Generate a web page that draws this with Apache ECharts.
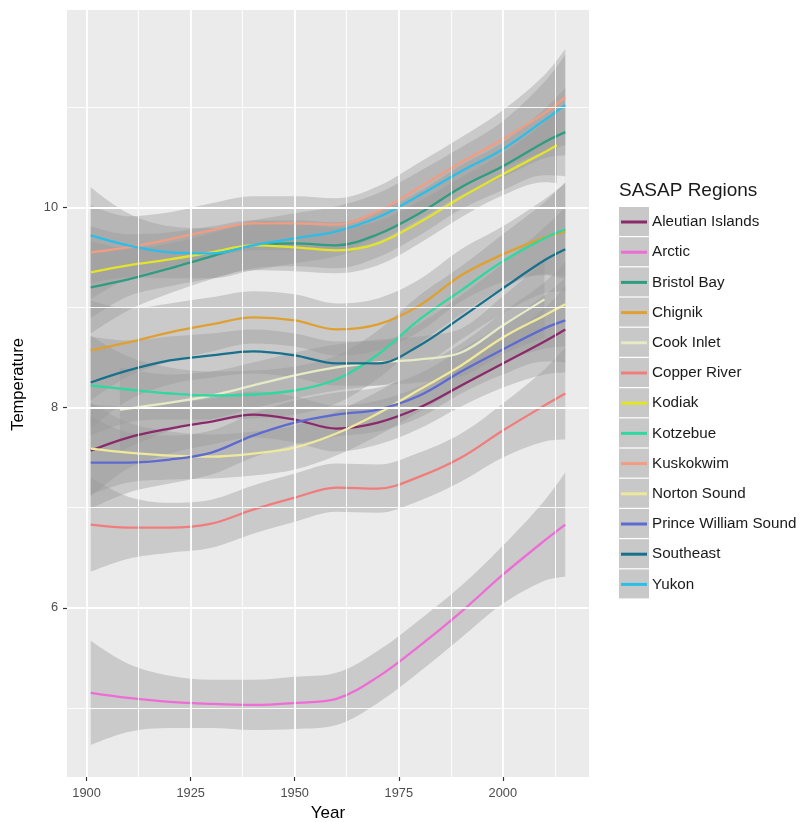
<!DOCTYPE html>
<html>
<head>
<meta charset="utf-8">
<script src="https://cdn.jsdelivr.net/npm/echarts@6/dist/echarts.min.js"></script>
<style>html,body{margin:0;padding:0;background:#fff}#chart{width:806px;height:822px}</style>
</head>
<body>
<div id="chart"></div>
<script>
// ---- data ----
const years       = [1901, 1910, 1920, 1930, 1940, 1950, 1960, 1970, 1980, 1990, 2000, 2010, 2015];
const kodiakYears = [1901, 1910, 1920, 1930, 1940, 1950, 1960, 1970, 1980, 1990, 2000, 2010, 2013];
const cookYears   = [1908, 1920, 1930, 1940, 1950, 1960, 1970, 1980, 1990, 2000, 2010];

const regions = ['Aleutian Islands', 'Arctic', 'Bristol Bay', 'Chignik', 'Cook Inlet', 'Copper River',
  'Kodiak', 'Kotzebue', 'Kuskokwim', 'Norton Sound', 'Prince William Sound', 'Southeast', 'Yukon'];
const regionColors = ['#8b2a6b', '#ef6cd6', '#2e9d80', '#e0a030', '#e6ebc6', '#f27c7c',
  '#e3e32a', '#2fd8a0', '#f29c82', '#eee99a', '#5d6ad2', '#17708c', '#2bbee8'];

// smoothed temperature (fit line)
const aleutian   = [7.57, 7.70, 7.79, 7.86, 7.93, 7.88, 7.79, 7.85, 8.00, 8.22, 8.44, 8.66, 8.78];
const arctic     = [5.15, 5.10, 5.06, 5.04, 5.03, 5.05, 5.09, 5.31, 5.62, 5.96, 6.33, 6.67, 6.83];
const bristolBay = [9.20, 9.28, 9.39, 9.51, 9.62, 9.64, 9.62, 9.73, 9.94, 10.20, 10.41, 10.65, 10.75];
const chignik    = [8.57, 8.65, 8.75, 8.83, 8.90, 8.87, 8.78, 8.83, 9.02, 9.32, 9.53, 9.70, 9.76];
const cookInlet  = [7.98, 8.05, 8.12, 8.22, 8.32, 8.40, 8.45, 8.48, 8.55, 8.82, 9.08];
const copperRiver= [6.83, 6.80, 6.80, 6.84, 6.98, 7.10, 7.20, 7.19, 7.31, 7.50, 7.77, 8.02, 8.14];
const kodiak     = [9.35, 9.42, 9.48, 9.55, 9.62, 9.60, 9.57, 9.64, 9.85, 10.10, 10.33, 10.55, 10.62];
const kotzebue   = [8.22, 8.18, 8.14, 8.12, 8.13, 8.17, 8.28, 8.53, 8.88, 9.17, 9.46, 9.69, 9.78];
const kuskokwim  = [9.55, 9.60, 9.68, 9.77, 9.84, 9.84, 9.83, 9.96, 10.20, 10.45, 10.68, 10.94, 11.10];
const nortonSound= [7.59, 7.55, 7.52, 7.51, 7.54, 7.60, 7.74, 7.94, 8.18, 8.42, 8.70, 8.92, 9.03];
const princeWilliam = [7.45, 7.45, 7.48, 7.55, 7.72, 7.85, 7.93, 7.98, 8.12, 8.36, 8.58, 8.79, 8.87];
const southeast  = [8.25, 8.37, 8.47, 8.52, 8.56, 8.52, 8.44, 8.44, 8.62, 8.90, 9.19, 9.47, 9.58];
const yukon      = [9.72, 9.62, 9.55, 9.54, 9.62, 9.69, 9.76, 9.90, 10.12, 10.36, 10.58, 10.87, 11.02];

// half-width of the confidence ribbon
const aleutianSE   = [0.46, 0.31, 0.25, 0.23, 0.23, 0.23, 0.23, 0.22, 0.21, 0.21, 0.24, 0.33, 0.43];
const arcticSE     = [0.52, 0.34, 0.26, 0.24, 0.25, 0.26, 0.26, 0.26, 0.26, 0.26, 0.29, 0.40, 0.52];
const bristolBaySE = [0.46, 0.31, 0.25, 0.23, 0.23, 0.23, 0.23, 0.23, 0.22, 0.22, 0.24, 0.33, 0.44];
const chignikSE    = [0.50, 0.34, 0.29, 0.27, 0.26, 0.26, 0.26, 0.26, 0.26, 0.26, 0.28, 0.38, 0.48];
const cookInletSE  = [0.42, 0.28, 0.24, 0.23, 0.23, 0.23, 0.23, 0.23, 0.24, 0.29, 0.38];
const copperRiverSE= [0.47, 0.31, 0.25, 0.24, 0.24, 0.24, 0.24, 0.24, 0.24, 0.24, 0.27, 0.36, 0.46];
const kodiakSE     = [0.46, 0.31, 0.27, 0.26, 0.25, 0.24, 0.23, 0.22, 0.21, 0.20, 0.21, 0.30, 0.38];
const kotzebueSE   = [0.50, 0.33, 0.26, 0.24, 0.24, 0.24, 0.24, 0.24, 0.24, 0.24, 0.27, 0.36, 0.47];
const kuskokwimSE  = [0.47, 0.31, 0.27, 0.27, 0.27, 0.27, 0.26, 0.25, 0.25, 0.25, 0.29, 0.38, 0.48];
const nortonSoundSE= [0.46, 0.30, 0.24, 0.22, 0.22, 0.22, 0.22, 0.22, 0.22, 0.22, 0.25, 0.33, 0.42];
const princeWilliamSE = [0.46, 0.30, 0.24, 0.22, 0.22, 0.22, 0.22, 0.22, 0.22, 0.22, 0.25, 0.33, 0.42];
const southeastSE  = [0.46, 0.30, 0.24, 0.22, 0.22, 0.22, 0.22, 0.22, 0.22, 0.22, 0.25, 0.33, 0.42];
const yukonSE      = [0.48, 0.32, 0.26, 0.25, 0.25, 0.25, 0.25, 0.24, 0.24, 0.24, 0.28, 0.38, 0.50];

const xTicks = [1900, 1925, 1950, 1975, 2000];
const xMinorTicks = [1912.5, 1937.5, 1962.5, 1987.5, 2012.5];
const yTicks = [6, 8, 10];
const yMinorTicks = [5, 7, 9, 11];

const regionSeries = [
  { years: years, fit: aleutian, se: aleutianSE },
  { years: years, fit: arctic, se: arcticSE },
  { years: years, fit: bristolBay, se: bristolBaySE },
  { years: years, fit: chignik, se: chignikSE },
  { years: cookYears, fit: cookInlet, se: cookInletSE },
  { years: years, fit: copperRiver, se: copperRiverSE },
  { years: kodiakYears, fit: kodiak, se: kodiakSE },
  { years: years, fit: kotzebue, se: kotzebueSE },
  { years: years, fit: kuskokwim, se: kuskokwimSE },
  { years: years, fit: nortonSound, se: nortonSoundSE },
  { years: years, fit: princeWilliam, se: princeWilliamSE },
  { years: years, fit: southeast, se: southeastSE },
  { years: years, fit: yukon, se: yukonSE }
];

// ---- chart ----
const FONT = '"Liberation Sans", Arial, sans-serif';
const SMOOTH = 0.35;
const series = [];

// ggplot-like grid lines via markLine on a helper series
const gridLines = [];
yMinorTicks.forEach(v => gridLines.push({ yAxis: v, lineStyle: { color: '#ffffff', width: 0.9, type: 'solid' } }));
xMinorTicks.forEach(v => gridLines.push({ xAxis: v, lineStyle: { color: '#ffffff', width: 0.9, type: 'solid' } }));
yTicks.forEach(v => gridLines.push({ yAxis: v, lineStyle: { color: '#ffffff', width: 1.8, type: 'solid' } }));
xTicks.forEach(v => gridLines.push({ xAxis: v, lineStyle: { color: '#ffffff', width: 1.8, type: 'solid' } }));
series.push({
  type: 'line', name: '_grid', data: [[years[0], arctic[0]]], symbol: 'none',
  lineStyle: { width: 0, opacity: 0 }, silent: true, z: 1,
  markLine: { silent: true, symbol: ['none', 'none'], label: { show: false }, animation: false, data: gridLines }
});

regionSeries.forEach((r, i) => {
  const stackId = 'ribbon' + i;
  // value first, year second -> the stacked dimension is the temperature (y)
  series.push({
    type: 'line', name: 'lo' + i, stack: stackId, stackStrategy: 'all', smooth: SMOOTH,
    symbol: 'none', showSymbol: false, silent: true, z: 2, encode: { x: 1, y: 0 },
    lineStyle: { color: 'rgba(0,0,0,0)', width: 0 },
    data: r.years.map((y, j) => [r.fit[j] - r.se[j], y])
  });
  series.push({
    type: 'line', name: 'band' + i, stack: stackId, stackStrategy: 'all', smooth: SMOOTH,
    symbol: 'none', showSymbol: false, silent: true, z: 2, encode: { x: 1, y: 0 },
    lineStyle: { color: 'rgba(0,0,0,0)', width: 0 },
    areaStyle: { color: 'rgba(153,153,153,0.4)', opacity: 1 },
    data: r.years.map((y, j) => [2 * r.se[j], y])
  });
  series.push({
    type: 'line', name: regions[i], smooth: SMOOTH, symbol: 'none', z: 2,
    lineStyle: { color: regionColors[i], width: 2.3 },
    itemStyle: { color: regionColors[i] },
    data: r.years.map((y, j) => [y, r.fit[j]])
  });
});

const option = {
  animation: false,
  title: [{
    text: 'SASAP Regions', left: 619, top: 181, padding: 0,
    textStyle: { fontFamily: FONT, fontSize: 19, fontWeight: 'normal', color: '#1a1a1a' }
  }],
  legend: [
    { // gray key boxes
      data: regions, orient: 'vertical', left: 619, top: 207, padding: 0,
      icon: 'rect', itemWidth: 30, itemHeight: 29, itemGap: 1.2, selectedMode: false,
      itemStyle: { color: '#c8c8c8', borderWidth: 0 },
      textStyle: { color: 'rgba(0,0,0,0)', fontSize: 12 }
    },
    { // coloured key lines + labels
      data: regions, orient: 'vertical', left: 621, top: 214, padding: 0,
      icon: 'rect', itemWidth: 26, itemHeight: 3, itemGap: 14.2, selectedMode: false,
      itemStyle: { borderWidth: 0 },
      textStyle: { color: '#1a1a1a', fontSize: 15.2, lineHeight: 16, fontFamily: FONT }
    }
  ],
  grid: { left: 67, right: 217, top: 10, bottom: 45, outerBoundsMode: 'none', containLabel: false,
    show: true, backgroundColor: '#ebebeb', borderWidth: 0 },
  xAxis: {
    type: 'value', min: 1895.3, max: 2020.7,
    name: 'Year', nameLocation: 'middle', nameGap: 26,
    nameTextStyle: { fontFamily: FONT, fontSize: 17, color: '#000' },
    axisLine: { show: false },
    axisTick: { show: true, length: 4, customValues: xTicks, lineStyle: { color: '#333333', width: 1.2 } },
    axisLabel: { customValues: xTicks, margin: 10, color: '#4d4d4d', fontSize: 12.8, fontFamily: FONT,
      formatter: v => String(v) },
    splitLine: { show: false }
  },
  yAxis: {
    type: 'value', min: 4.31, max: 11.97,
    name: 'Temperature', nameLocation: 'middle', nameGap: 40, nameRotate: 90,
    nameTextStyle: { fontFamily: FONT, fontSize: 16.5, color: '#000', padding: [0, 0, 0, 18] },
    axisLine: { show: false },
    axisTick: { show: true, length: 4, customValues: yTicks, lineStyle: { color: '#333333', width: 1.2 } },
    axisLabel: { customValues: yTicks, margin: 9, color: '#4d4d4d', fontSize: 12.8, fontFamily: FONT,
      formatter: v => String(v) },
    splitLine: { show: false }
  },
  series: series
};

const chart = echarts.init(document.getElementById('chart'), null, { renderer: 'canvas' });
chart.setOption(option);
</script>
</body>
</html>
